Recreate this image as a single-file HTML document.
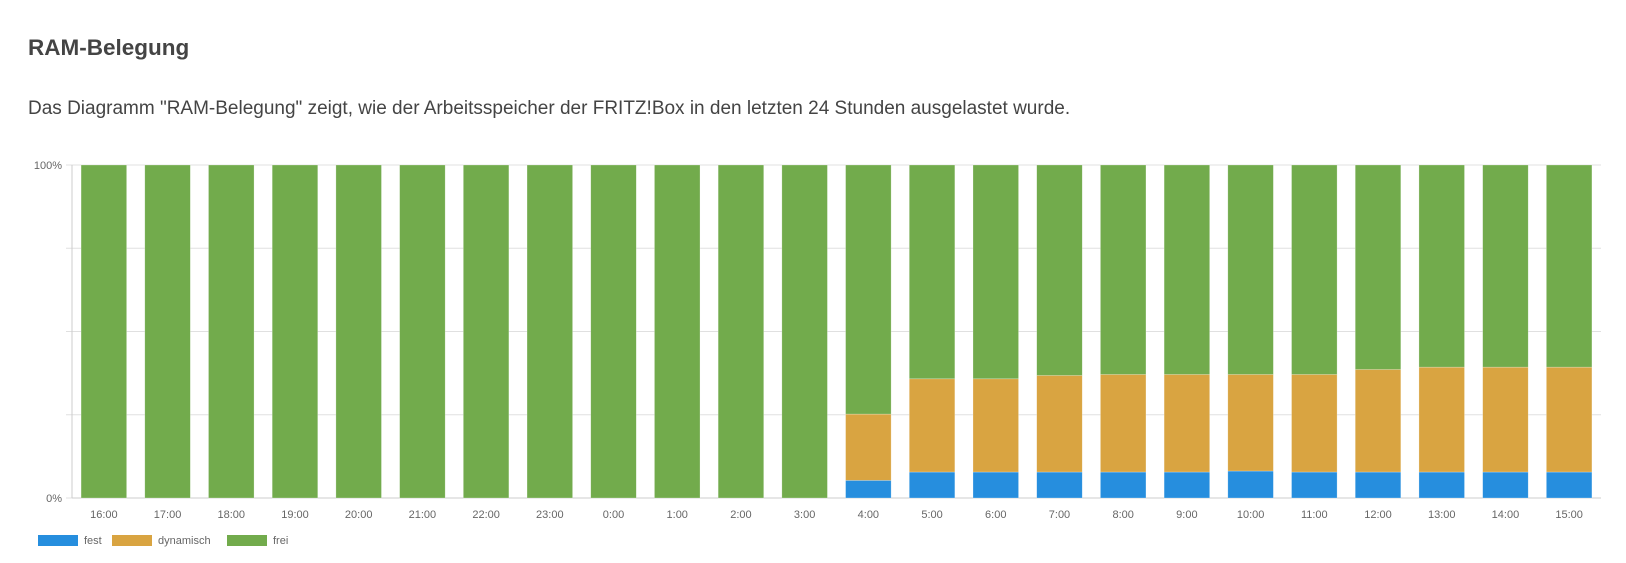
<!DOCTYPE html>
<html><head><meta charset="utf-8"><style>
body{margin:0;width:1626px;height:563px;background:#fff;font-family:"Liberation Sans",sans-serif;overflow:hidden;position:relative}
h2{position:absolute;left:28px;top:35px;margin:0;font-size:22.5px;font-weight:bold;color:#444}
p{position:absolute;left:28px;top:98px;margin:0;font-size:19px;color:#444}
svg{position:absolute;left:0;top:0}
</style></head><body>
<h2>RAM-Belegung</h2>
<p>Das Diagramm "RAM-Belegung" zeigt, wie der Arbeitsspeicher der FRITZ!Box in den letzten 24 Stunden ausgelastet wurde.</p>
<svg id="c" width="1626" height="563"></svg>
<script>
const categories=["16:00","17:00","18:00","19:00","20:00","21:00","22:00","23:00","0:00","1:00","2:00","3:00","4:00","5:00","6:00","7:00","8:00","9:00","10:00","11:00","12:00","13:00","14:00","15:00"];
const fest=[0,0,0,0,0,0,0,0,0,0,0,0,5.3,7.8,7.8,7.8,7.8,7.8,8.1,7.8,7.8,7.8,7.8,7.8];
const dynamisch=[0,0,0,0,0,0,0,0,0,0,0,0,19.9,28,28,29,29.3,29.3,29,29.3,30.8,31.5,31.5,31.5];
const yTicks=[0,25,50,75,100];
const yTickLabels=["0%","","","","100%"];
const NS="http://www.w3.org/2000/svg",svg=document.getElementById('c');
const L=72,R=1601,T=165,B=498,band=(R-L)/categories.length,bw=band*0.715;
const y=v=>B-(B-T)*v/100, x=i=>L+band*i+(band-bw)/2;
function mk(t,a,p){const e=document.createElementNS(NS,t);for(const k in a)e.setAttribute(k,a[k]);(p||svg).appendChild(e);return e;}
yTicks.forEach((t,i)=>{const l=mk('line',{x1:L-6,x2:R,y1:y(t),y2:y(t),stroke:'#e0e0e0'});


if(yTickLabels[i]){const tx=mk('text',{x:L-10,y:y(t)+4,'text-anchor':'end','font-size':11,fill:'#666'});tx.textContent=yTickLabels[i];

}});
mk('line',{x1:L,x2:L,y1:T,y2:B,stroke:'#ccc'});
mk('line',{x1:L,x2:R,y1:B,y2:B,stroke:'#ccc'});
const cols={fest:'#268ede',dyn:'#d9a441',frei:'#72ab4c'};
categories.forEach((c,i)=>{
 const f=fest[i],d=dynamisch[i];
 [[0,f,cols.fest,'bar-fest'],[f,f+d,cols.dyn,'bar-dynamisch'],[f+d,100,cols.frei,'bar-frei']].forEach(s=>{
  if(s[1]-s[0]<=0)return;
  const r=mk('rect',{x:x(i),y:y(s[1]),width:bw,height:y(s[0])-y(s[1]),fill:s[2],stroke:'rgba(255,255,255,0.4)','stroke-width':0.6});
  
  
 });
 const t=mk('text',{x:x(i)+bw/2,y:B+20,'text-anchor':'middle','font-size':11,fill:'#666'});t.textContent=c;
 
 
});
const leg=[["fest",cols.fest,38],["dynamisch",cols.dyn,112],["frei",cols.frei,227]];
leg.forEach(g=>{
 const r=mk('rect',{x:g[2],y:535,width:40,height:11,fill:g[1]});
 
 
 const t=mk('text',{x:g[2]+46,y:544,'font-size':11,fill:'#666'});t.textContent=g[0];
 
 
});
</script>
</body></html>
